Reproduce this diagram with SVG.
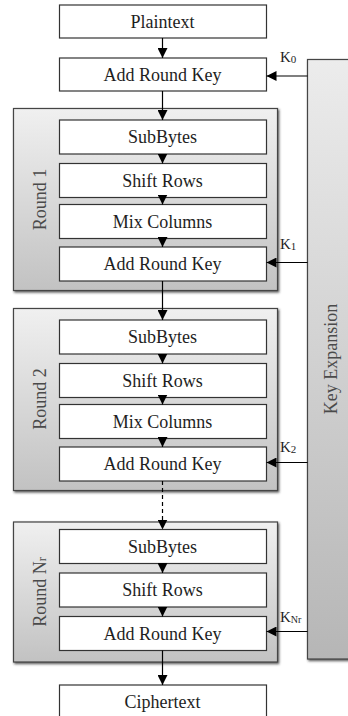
<svg xmlns="http://www.w3.org/2000/svg" width="348" height="716" viewBox="0 0 348 716">
  <defs>
    <linearGradient id="roundFill" x1="0" y1="0" x2="0" y2="1">
      <stop offset="0" stop-color="#f0f0f0"/>
      <stop offset="1" stop-color="#c2c2c2"/>
    </linearGradient>
    <linearGradient id="keyFill" x1="0" y1="0" x2="0" y2="1">
      <stop offset="0" stop-color="#ececec"/>
      <stop offset="1" stop-color="#b6b6b6"/>
    </linearGradient>
    <filter id="shadow" x="-10%" y="-10%" width="130%" height="130%">
      <feDropShadow dx="1.2" dy="1.5" stdDeviation="0.8" flood-color="#333" flood-opacity="0.8"/>
    </filter>
    <marker id="arrow" viewBox="0 0 10 10" refX="10" refY="5" markerWidth="10" markerHeight="10" markerUnits="userSpaceOnUse" orient="auto">
      <path d="M0,0 L10,5 L0,10 Z" fill="#000"/>
    </marker>
  </defs>
  <style>
    .step { fill: #fff; stroke: #333; stroke-width: 1.2; }
    .group { fill: url(#roundFill); stroke: #444; stroke-width: 1.2; filter: url(#shadow); }
    .label { font-family: "Liberation Serif", "Times New Roman", serif; font-size: 18px; fill: #1e1e1e; text-anchor: middle; }
    .rlabel { font-family: "Liberation Serif", "Times New Roman", serif; font-size: 18px; fill: #4a4a4a; text-anchor: middle; }
    .key { font-family: "Liberation Serif", "Times New Roman", serif; font-size: 15px; fill: #1e1e1e; }
    .conn { stroke: #000; stroke-width: 1.2; fill: none; marker-end: url(#arrow); }
    .dash { stroke-dasharray: 4 3; }
  </style>

  <!-- key schedule column -->
  <g id="key-expansion">
    <rect x="307.5" y="59.5" width="60" height="599.5" fill="url(#keyFill)" stroke="#444" stroke-width="1.2" filter="url(#shadow)"/>
    <text class="rlabel" transform="translate(337,359) rotate(-90)">Key Expansion</text>
  </g>

  <!-- round containers -->
  <g id="round-1">
    <rect class="group" x="13.5" y="108.5" width="264" height="182"/>
    <text class="rlabel" transform="translate(45.5,199.5) rotate(-90)">Round 1</text>
  </g>
  <g id="round-2">
    <rect class="group" x="13.5" y="308.5" width="264" height="182"/>
    <text class="rlabel" transform="translate(45.5,399) rotate(-90)">Round 2</text>
  </g>
  <g id="round-nr">
    <rect class="group" x="13.5" y="522" width="264" height="140"/>
    <text class="rlabel" transform="translate(45.5,592) rotate(-90)">Round N<tspan font-size="12">r</tspan></text>
  </g>

  <!-- processing steps -->
  <g id="plaintext">
    <rect class="step" x="59.5" y="5" width="207" height="33"/>
    <text class="label" x="162.5" y="27.5">Plaintext</text>
  </g>
  <g id="ark-0">
    <rect class="step" x="59.5" y="58" width="207" height="33"/>
    <text class="label" x="162.5" y="80.5">Add Round Key</text>
  </g>

  <g id="r1-subbytes">
    <rect class="step" x="59.5" y="120" width="207" height="34"/>
    <text class="label" x="162.5" y="143">SubBytes</text>
  </g>
  <g id="r1-shiftrows">
    <rect class="step" x="59.5" y="163.5" width="207" height="34"/>
    <text class="label" x="162.5" y="186.5">Shift Rows</text>
  </g>
  <g id="r1-mixcolumns">
    <rect class="step" x="59.5" y="204.5" width="207" height="34"/>
    <text class="label" x="162.5" y="227.5">Mix Columns</text>
  </g>
  <g id="r1-ark">
    <rect class="step" x="59.5" y="247" width="207" height="34"/>
    <text class="label" x="162.5" y="270">Add Round Key</text>
  </g>

  <g id="r2-subbytes">
    <rect class="step" x="59.5" y="320" width="207" height="34"/>
    <text class="label" x="162.5" y="343">SubBytes</text>
  </g>
  <g id="r2-shiftrows">
    <rect class="step" x="59.5" y="363.5" width="207" height="34"/>
    <text class="label" x="162.5" y="386.5">Shift Rows</text>
  </g>
  <g id="r2-mixcolumns">
    <rect class="step" x="59.5" y="404.5" width="207" height="34"/>
    <text class="label" x="162.5" y="427.5">Mix Columns</text>
  </g>
  <g id="r2-ark">
    <rect class="step" x="59.5" y="447" width="207" height="34"/>
    <text class="label" x="162.5" y="470">Add Round Key</text>
  </g>

  <g id="rn-subbytes">
    <rect class="step" x="59.5" y="529.5" width="207" height="34"/>
    <text class="label" x="162.5" y="552.5">SubBytes</text>
  </g>
  <g id="rn-shiftrows">
    <rect class="step" x="59.5" y="573" width="207" height="34"/>
    <text class="label" x="162.5" y="596">Shift Rows</text>
  </g>
  <g id="rn-ark">
    <rect class="step" x="59.5" y="616.5" width="207" height="34"/>
    <text class="label" x="162.5" y="639.5">Add Round Key</text>
  </g>

  <g id="ciphertext">
    <rect class="step" x="59.5" y="685" width="207" height="40"/>
    <text class="label" x="162.5" y="708">Ciphertext</text>
  </g>

  <!-- data flow and round keys -->
  <g id="connectors">
    <line class="conn" x1="162.5" y1="38" x2="162.5" y2="58"/>
    <line class="conn" x1="162.5" y1="91" x2="162.5" y2="120"/>
    <line class="conn" x1="162.5" y1="154" x2="162.5" y2="163.5"/>
    <line class="conn" x1="162.5" y1="197.5" x2="162.5" y2="204.5"/>
    <line class="conn" x1="162.5" y1="238.5" x2="162.5" y2="247"/>
    <line class="conn" x1="162.5" y1="281" x2="162.5" y2="320"/>
    <line class="conn" x1="162.5" y1="354" x2="162.5" y2="363.5"/>
    <line class="conn" x1="162.5" y1="397.5" x2="162.5" y2="404.5"/>
    <line class="conn" x1="162.5" y1="438.5" x2="162.5" y2="447"/>
    <line class="conn dash" x1="162.5" y1="481" x2="162.5" y2="529.5"/>
    <line class="conn" x1="162.5" y1="563.5" x2="162.5" y2="573"/>
    <line class="conn" x1="162.5" y1="607" x2="162.5" y2="616.5"/>
    <line class="conn" x1="162.5" y1="650.5" x2="162.5" y2="685"/>

    <line class="conn" x1="307.5" y1="76" x2="266.5" y2="76"/>
    <line class="conn" x1="307.5" y1="262.5" x2="266.5" y2="262.5"/>
    <line class="conn" x1="307.5" y1="462.5" x2="266.5" y2="462.5"/>
    <line class="conn" x1="307.5" y1="631.5" x2="266.5" y2="631.5"/>

    <text class="key" x="280" y="62">K<tspan font-size="11" dy="1">0</tspan></text>
    <text class="key" x="280" y="249">K<tspan font-size="11" dy="1">1</tspan></text>
    <text class="key" x="280" y="452">K<tspan font-size="11" dy="1">2</tspan></text>
    <text class="key" x="280" y="621.5">K<tspan font-size="10" dy="1">Nr</tspan></text>
  </g>
</svg>
